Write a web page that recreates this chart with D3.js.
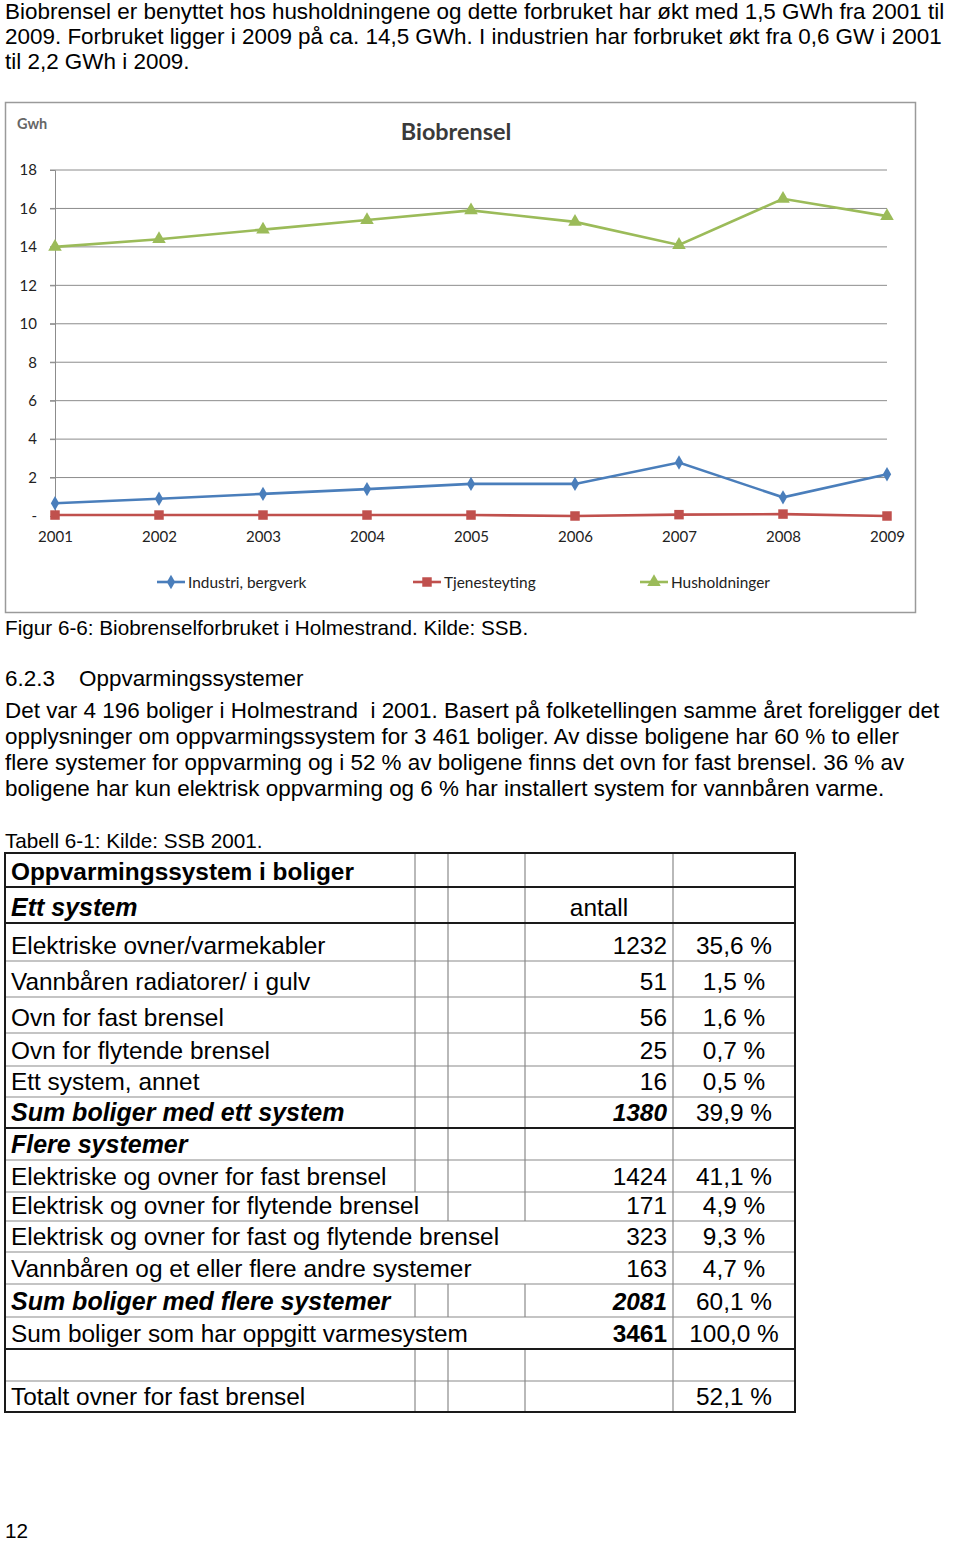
<!DOCTYPE html>
<html><head><meta charset="utf-8">
<script src="https://cdn.jsdelivr.net/npm/d3@7"></script>
<style>
html,body{margin:0;padding:0;background:#fff;}
svg{display:block;}
text{white-space:pre;}
</style></head>
<body>
<script>
// ---------- DATA ----------
const years = ["2001","2002","2003","2004","2005","2006","2007","2008","2009"];
const industri = [0.66, 0.9, 1.15, 1.4, 1.67, 1.67, 2.78, 0.97, 2.17];
const tjeneste = [0.05, 0.05, 0.05, 0.05, 0.05, 0.0, 0.07, 0.1, 0.0];
const husholdninger = [14.0, 14.4, 14.9, 15.4, 15.9, 15.3, 14.1, 16.5, 15.6];
const yTicks = [0, 2, 4, 6, 8, 10, 12, 14, 16, 18];
const seriesNames = ["Industri, bergverk", "Tjenesteyting", "Husholdninger"];
const chartTitle = "Biobrensel";
const yUnit = "Gwh";

const introLines = [
  "Biobrensel er benyttet hos husholdningene og dette forbruket har økt med 1,5 GWh fra 2001 til",
  "2009. Forbruket ligger i 2009 på ca. 14,5 GWh. I industrien har forbruket økt fra 0,6 GW i 2001",
  "til 2,2 GWh i 2009."
];
const figCaption = "Figur 6-6: Biobrenselforbruket i Holmestrand. Kilde: SSB.";
const headingNum = "6.2.3";
const headingText = "Oppvarmingssystemer";
const paraLines = [
  "Det var 4 196 boliger i Holmestrand  i 2001. Basert på folketellingen samme året foreligger det",
  "opplysninger om oppvarmingssystem for 3 461 boliger. Av disse boligene har 60 % to eller",
  "flere systemer for oppvarming og i 52 % av boligene finns det ovn for fast brensel. 36 % av",
  "boligene har kun elektrisk oppvarming og 6 % har installert system for vannbåren varme."
];
const tableCaption = "Tabell 6-1: Kilde: SSB 2001.";
const tableLabels = [
  "Oppvarmingssystem i boliger","Ett system","Elektriske ovner/varmekabler","Vannbåren radiatorer/ i gulv",
  "Ovn for fast brensel","Ovn for flytende brensel","Ett system, annet","Sum boliger med ett system",
  "Flere systemer","Elektriske og ovner for fast brensel","Elektrisk og ovner for flytende brensel",
  "Elektrisk og ovner for fast og flytende brensel","Vannbåren og et eller flere andre systemer",
  "Sum boliger med flere systemer","Sum boliger som har oppgitt varmesystem","","Totalt ovner for fast brensel"
];
const tableCounts = ["","antall","1232","51","56","25","16","1380","","1424","171","323","163","2081","3461","",""];
const tablePcts = ["","","35,6 %","1,5 %","1,6 %","0,7 %","0,5 %","39,9 %","","41,1 %","4,9 %","9,3 %","4,7 %","60,1 %","100,0 %","","52,1 %"];
const pageNumber = "12";

// ---------- LAYOUT ----------
const W = 960, H = 1542;
const svg = d3.select("body").append("svg").attr("width", W).attr("height", H);
svg.append("rect").attr("width", W).attr("height", H).attr("fill", "#fff");
const bodyFont = "'Liberation Sans', Arial, sans-serif";
const chartFont = "Lato, 'Open Sans', sans-serif";
const bodySize = 22.45, capSize = 20.7;

svg.selectAll("text.intro").data(introLines).join("text").attr("class","intro")
  .attr("x", 5).attr("y", (d,i) => 18.5 + i*25.2)
  .attr("font-family", bodyFont).attr("font-size", bodySize).attr("fill", "#000").text(d => d);

// ---------- CHART ----------
const frame = svg.append("g");
frame.append("rect").attr("x", 5.5).attr("y", 102.5).attr("width", 910).attr("height", 510)
  .attr("fill", "#fff").attr("stroke", "#9a9a9a").attr("stroke-width", 1.5);

const x = d3.scalePoint().domain(years).range([55, 887]).padding(0);
const y = d3.scaleLinear().domain([0, 18]).range([516, 170]);
const chart = svg.append("g").attr("font-family", chartFont);

// grid lines
chart.append("g").selectAll("line").data(yTicks.filter(t => t > 0)).join("line")
  .attr("x1", 50).attr("x2", 887).attr("y1", d => y(d)).attr("y2", d => y(d))
  .attr("stroke", "#8c8c8c").attr("stroke-width", 1);
// y axis
const yAxis = d3.axisLeft(y).tickValues(yTicks).tickSize(5).tickPadding(13)
  .tickFormat(d => d === 0 ? "-" : String(d));
const yg = chart.append("g").attr("transform", "translate(55,0)").call(yAxis);
yg.select(".domain").attr("stroke", "#8c8c8c");
yg.selectAll(".tick line").attr("stroke", "#8c8c8c");
yg.selectAll(".tick text").attr("font-family", chartFont).attr("font-size", 15).attr("fill", "#222");
// x axis labels
const xAxis = d3.axisBottom(x).tickSize(0).tickPadding(15);
const xg = chart.append("g").attr("transform", "translate(0,516)").call(xAxis);
xg.select(".domain").remove();
xg.selectAll(".tick text").attr("font-family", chartFont).attr("font-size", 15).attr("fill", "#222");

chart.append("text").attr("x", 17).attr("y", 129).attr("font-size", 14.5).attr("font-weight", "bold")
  .attr("fill", "#666").text(yUnit);
chart.append("text").attr("x", 456).attr("y", 140).attr("text-anchor", "middle").attr("font-size", 23.4)
  .attr("font-weight", "bold").attr("fill", "#3a3a3a").text(chartTitle);

const colors = ["#4a7ebb", "#c0504d", "#9bbb59"];
const seriesData = [industri, tjeneste, husholdninger];
const line = d3.line().x((d,i) => x(years[i])).y(d => y(d));
const symbols = [d3.symbolDiamond, d3.symbolSquare, d3.symbolTriangle];
const symSizes = [60, 90, 80];

seriesData.forEach((vals, s) => {
  chart.append("path").datum(vals).attr("d", line).attr("fill", "none")
    .attr("stroke", colors[s]).attr("stroke-width", 2.6);
  chart.append("g").selectAll("path").data(vals).join("path")
    .attr("transform", (d,i) => `translate(${x(years[i])},${y(d)})`)
    .attr("d", d3.symbol().type(symbols[s]).size(symSizes[s]))
    .attr("fill", colors[s]);
});

// legend
const legendX = [157, 413, 640];
const leg = chart.append("g").selectAll("g").data(seriesNames).join("g")
  .attr("transform", (d,i) => `translate(${legendX[i]},582)`);
leg.append("line").attr("x1", 0).attr("x2", 28).attr("stroke", (d,i) => colors[i]).attr("stroke-width", 2.6);
leg.append("path").attr("transform", "translate(14,0)")
  .attr("d", (d,i) => d3.symbol().type(symbols[i]).size(symSizes[i])())
  .attr("fill", (d,i) => colors[i]);
leg.append("text").attr("x", 31).attr("y", 5.5).attr("font-size", 15.4).attr("fill", "#222").text(d => d);

// ---------- CAPTION / HEADING / PARAGRAPH ----------
svg.append("text").attr("x", 5).attr("y", 635).attr("font-family", bodyFont).attr("font-size", capSize).text(figCaption);
svg.append("text").attr("x", 5).attr("y", 686).attr("font-family", bodyFont).attr("font-size", bodySize).text(headingNum);
svg.append("text").attr("x", 79).attr("y", 686).attr("font-family", bodyFont).attr("font-size", bodySize).text(headingText);
svg.selectAll("text.para").data(paraLines).join("text").attr("class","para")
  .attr("x", 5).attr("y", (d,i) => 717.5 + i*26)
  .attr("font-family", bodyFont).attr("font-size", bodySize).text(d => d);
svg.append("text").attr("x", 5).attr("y", 848).attr("font-family", bodyFont).attr("font-size", capSize).text(tableCaption);

// ---------- TABLE ----------
const rowEdges = [853, 887, 923, 961, 997, 1033, 1066, 1097, 1128, 1160, 1192, 1221, 1252, 1284, 1317, 1349, 1381, 1412];
const tblL = 5, tblR = 795;
// which inner column lines (415,448,525) are visible in each row
const visibleCols = tableLabels.map((d,i) => {
  if (i === 10) return [448, 525];
  if (i === 11 || i === 12 || i === 14) return [];
  return [415, 448, 525];
});
const thickRows = new Set([0, 1, 2, 8, 15, 17]);
const tbl = svg.append("g").attr("font-family", bodyFont).attr("font-size", 24.4);

// thin horizontal lines
tbl.append("g").selectAll("line").data(rowEdges.map((e,i)=>i).filter(i => !thickRows.has(i))).join("line")
  .attr("x1", tblL).attr("x2", tblR).attr("y1", i => rowEdges[i]).attr("y2", i => rowEdges[i])
  .attr("stroke", "#8a8a8a").attr("stroke-width", 1.2);
// vertical inner lines
tableLabels.forEach((d,i) => {
  const cols = visibleCols[i].concat([673]);
  tbl.append("g").selectAll("line").data(cols).join("line")
    .attr("x1", c => c).attr("x2", c => c).attr("y1", rowEdges[i]).attr("y2", rowEdges[i+1])
    .attr("stroke", "#8a8a8a").attr("stroke-width", 1.2);
});
// thick horizontal lines
tbl.append("g").selectAll("line").data([...thickRows]).join("line")
  .attr("x1", tblL - 1).attr("x2", tblR + 1).attr("y1", i => rowEdges[i]).attr("y2", i => rowEdges[i])
  .attr("stroke", "#1a1a1a").attr("stroke-width", 2);
// outer vertical borders
[tblL, tblR].forEach(xx => tbl.append("line").attr("x1", xx).attr("x2", xx)
  .attr("y1", rowEdges[0]).attr("y2", rowEdges[rowEdges.length-1]).attr("stroke", "#1a1a1a").attr("stroke-width", 2));

const boldRows = new Set([0]);
const boldItalicRows = new Set([1, 7, 8, 13]);
tbl.append("g").selectAll("text").data(tableLabels).join("text")
  .attr("x", 11).attr("y", (d,i) => rowEdges[i+1] - 7)
  .attr("font-weight", (d,i) => (boldRows.has(i) || boldItalicRows.has(i)) ? "bold" : "normal")
  .attr("font-style", (d,i) => boldItalicRows.has(i) ? "italic" : "normal")
  .attr("font-size", (d,i) => boldItalicRows.has(i) ? 25 : 24.4)
  .text(d => d);
tbl.append("g").selectAll("text").data(tableCounts).join("text")
  .attr("x", (d,i) => i === 1 ? 599 : 667).attr("y", (d,i) => rowEdges[i+1] - 7)
  .attr("text-anchor", (d,i) => i === 1 ? "middle" : "end")
  .attr("font-weight", (d,i) => (i === 7 || i === 13 || i === 14) ? "bold" : "normal")
  .attr("font-style", (d,i) => (i === 7 || i === 13) ? "italic" : "normal")
  .text(d => d);
tbl.append("g").selectAll("text").data(tablePcts).join("text")
  .attr("x", 734).attr("y", (d,i) => rowEdges[i+1] - 7).attr("text-anchor", "middle")
  .text(d => d);

svg.append("text").attr("x", 5).attr("y", 1538).attr("font-family", bodyFont).attr("font-size", capSize).text(pageNumber);
</script>
</body></html>
